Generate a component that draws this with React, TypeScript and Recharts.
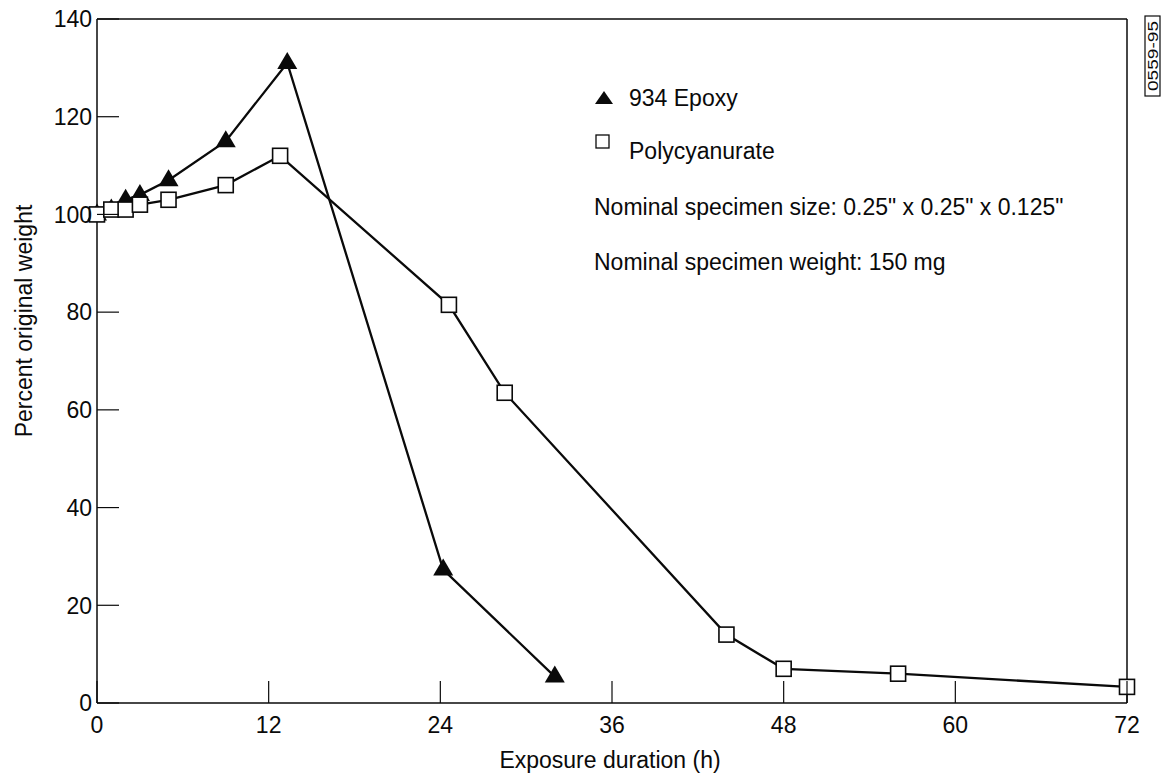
import React from 'react'
import { LineChart, Line, XAxis, YAxis, Label } from 'recharts'

// hours of exposure vs percent of original weight
const epoxyHours = [0, 1, 2, 3, 5, 9, 13.3, 24.2, 32]
const epoxyWeight = [100, 101, 103, 104, 107, 115, 131, 27.3, 5.4]
const polyHours = [0, 1, 2, 3, 5, 9, 12.8, 24.6, 28.5, 44, 48, 56, 72]
const polyWeight = [100, 101, 101, 102, 103, 106, 112, 81.5, 63.5, 14, 7, 6, 3.3]
const hourTicks = [0, 12, 24, 36, 48, 60, 72]
const weightTicks = [0, 20, 40, 60, 80, 100, 120, 140]

const epoxyData = epoxyHours.map((h, i) => ({ h, w: epoxyWeight[i] }))
const polyData = polyHours.map((h, i) => ({ h, w: polyWeight[i] }))

const FONT = '"Liberation Sans", Arial, Helvetica, sans-serif'
const TICK = 22
const INK = '#0a0a0a'

const BottomTick = ({ x, y, payload }: any) => (
    <g>
        <line x1={x} x2={x} y1={y} y2={y - TICK} stroke={INK} strokeWidth={1.2} />
        <text x={x} y={y + 30} textAnchor="middle" fontSize={23} fontFamily={FONT} fill={INK}>
            {payload.value}
        </text>
    </g>
)

const TopTick = ({ x, y }: any) => <line x1={x} x2={x} y1={y} y2={y + TICK} stroke={INK} strokeWidth={1.2} />

const LeftTick = ({ x, y, payload }: any) => (
    <g>
        <line x1={x} x2={x + TICK} y1={y} y2={y} stroke={INK} strokeWidth={1.2} />
        <text x={x - 5} y={y} dy="0.36em" textAnchor="end" fontSize={23} fontFamily={FONT} fill={INK}>
            {payload.value}
        </text>
    </g>
)

const RightTick = ({ x, y }: any) => <line x1={x} x2={x - TICK} y1={y} y2={y} stroke={INK} strokeWidth={1.2} />

const triangleDot = (props: any) => {
    const { cx, cy, index } = props
    return <polygon key={'t' + index} points={`${cx},${cy - 11} ${cx - 10},${cy + 6} ${cx + 10},${cy + 6}`} fill={INK} />
}

const squareDot = (props: any) => {
    const { cx, cy, index } = props
    return <rect key={'s' + index} x={cx - 7.5} y={cy - 7.5} width={15} height={15} fill="#fff" stroke={INK} strokeWidth={1.6} />
}

const axisLine = { stroke: INK, strokeWidth: 1.5 }

export default function App() {
    return (
        <div style={{ position: 'absolute', left: 0, top: 0, width: 1161, height: 774, background: '#fff' }}>
            <LineChart width={1161} height={774} margin={{ top: 18, right: 33, bottom: 21, left: 37 }}>
                <XAxis
                    dataKey="h"
                    type="number"
                    domain={[0, 72]}
                    ticks={hourTicks}
                    interval={0}
                    height={50}
                    tickSize={0}
                    tickMargin={0}
                    tickLine={false}
                    tick={BottomTick}
                    axisLine={axisLine}
                >
                    <Label
                        content={({ viewBox }: any) => (
                            <text
                                x={viewBox.x + viewBox.width / 2 - 2}
                                y={viewBox.y + 65}
                                textAnchor="middle"
                                fontSize={23}
                                fontFamily={FONT}
                                fill={INK}
                            >
                                Exposure duration (h)
                            </text>
                        )}
                    />
                </XAxis>
                <XAxis
                    xAxisId="top"
                    orientation="top"
                    type="number"
                    domain={[0, 72]}
                    ticks={hourTicks}
                    interval={0}
                    height={1}
                    tickSize={0}
                    tickMargin={0}
                    tickLine={false}
                    tick={TopTick}
                    axisLine={axisLine}
                />
                <YAxis
                    type="number"
                    domain={[0, 140]}
                    ticks={weightTicks}
                    interval={0}
                    width={60}
                    tickSize={0}
                    tickMargin={0}
                    tickLine={false}
                    tick={LeftTick}
                    axisLine={axisLine}
                >
                    <Label
                        content={({ viewBox }: any) => {
                            const tx = viewBox.x - 13
                            const ty = viewBox.y + 302
                            return (
                                <text
                                    x={tx}
                                    y={ty}
                                    transform={`rotate(-90 ${tx} ${ty})`}
                                    textAnchor="middle"
                                    dominantBaseline="central"
                                    fontSize={23}
                                    fontFamily={FONT}
                                    fill={INK}
                                >
                                    Percent original weight
                                </text>
                            )
                        }}
                    />
                </YAxis>
                <YAxis
                    yAxisId="right"
                    orientation="right"
                    type="number"
                    domain={[0, 140]}
                    ticks={weightTicks}
                    interval={0}
                    width={1}
                    tickSize={0}
                    tickMargin={0}
                    tickLine={false}
                    tick={RightTick}
                    axisLine={axisLine}
                />
                <Line
                    data={epoxyData}
                    dataKey="w"
                    stroke={INK}
                    strokeWidth={2.3}
                    dot={triangleDot}
                    activeDot={false}
                    isAnimationActive={false}
                />
                <Line
                    data={polyData}
                    dataKey="w"
                    stroke={INK}
                    strokeWidth={2.3}
                    dot={squareDot}
                    activeDot={false}
                    isAnimationActive={false}
                />
            </LineChart>
            <svg
                width={1161}
                height={774}
                style={{ position: 'absolute', left: 0, top: 0, pointerEvents: 'none' }}
                fontFamily={FONT}
                fontSize={23}
                fill={INK}
            >
                <polygon points="604,91 595,104 613,104" fill={INK} />
                <text x={629} y={106}>934 Epoxy</text>
                <rect x={596} y={135} width={13} height={13} fill="#fff" stroke={INK} strokeWidth={1.3} />
                <text x={629} y={159}>Polycyanurate</text>
                <text x={594} y={215}>Nominal specimen size: 0.25" x 0.25" x 0.125"</text>
                <text x={594} y={270}>Nominal specimen weight: 150 mg</text>
                <rect x={1145} y={16} width={15} height={80} fill="#fff" stroke={INK} strokeWidth={1.2} />
                <text
                    x={1153}
                    y={56}
                    transform="rotate(-90 1153 56)"
                    textAnchor="middle"
                    dominantBaseline="central"
                    fontSize={14}
                    textLength={70}
                    lengthAdjust="spacingAndGlyphs"
                >
                    0559-95
                </text>
            </svg>
        </div>
    )
}
